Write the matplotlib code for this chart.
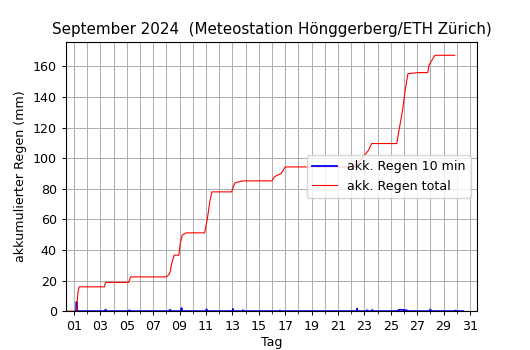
import numpy as np
import matplotlib
matplotlib.use('Agg')
from matplotlib import pyplot as plt
from matplotlib.ticker import FixedLocator, MultipleLocator, FuncFormatter

# day of month (fractional) and cumulative rain in mm
tag_total = [0.4, 1.2, 1.3, 1.4, 3.3, 3.4, 5.15, 5.3, 8.0, 8.2, 8.3, 8.4, 8.6, 8.95,
             9.05, 9.2, 9.5, 10.9, 11.1, 11.3, 11.45, 12.95, 13.1, 13.2, 13.8, 16.0,
             16.2, 16.7, 17.0, 22.3, 22.8, 23.3, 23.55, 25.45, 25.7, 25.9, 26.1, 26.3,
             27.1, 27.8, 27.9, 28.35, 29.85]
regen_total = [0, 0, 12, 15.9, 15.9, 18.8, 18.8, 22.4, 22.4, 24, 26, 31, 36.6, 36.6,
               44, 49.7, 51.2, 51.2, 60, 72, 78, 78, 82, 84, 85.2, 85.2,
               88, 90, 94.3, 94.3, 99.8, 105, 109.6, 109.6, 122, 132, 145, 155.3,
               156, 156, 161, 167.3, 167.3]

tag_10min = [1.15, 1.19, 1.2, 1.21, 1.25, 3.38, 3.4, 3.42, 5.18, 5.2, 5.22, 8.2, 8.25,
             8.3, 8.35, 8.5, 9.1, 9.15, 9.2, 9.5, 11.0, 11.05, 11.1, 13.03, 13.05, 13.07,
             13.78, 13.8, 13.82, 16.55, 16.6, 16.65, 22.43, 22.45, 22.47, 23.18, 23.2,
             23.22, 23.58, 23.6, 23.62, 25.5, 25.6, 25.8, 26.0, 26.2, 26.3, 27.98, 28.0,
             28.02, 29.88, 29.9, 29.92, 30.5]
regen_10min = [0, 0, 6.0, 0, 0, 0, 1.0, 0, 0, 0.6, 0, 0, 0.6, 0.9, 0, 0, 0, 2.0, 0, 0,
               0, 1.2, 0, 0, 1.5, 0, 0, 0.6, 0, 0, 0.4, 0, 0, 1.6, 0, 0, 0.6, 0,
               0, 0.8, 0, 0, 0.8, 0.9, 0.7, 0.5, 0, 0, 1.1, 0, 0, 0.4, 0, 0]

tag_labels = list(range(1, 32, 2))

plt.rcParams['font.size'] = 9.1

fig = plt.figure(figsize=(5.3, 3.5), dpi=100)
ax = fig.add_axes([0.1245, 0.111, 0.7755, 0.769])

ax.plot(tag_10min, regen_10min, color='blue', linewidth=1.3, label='akk. Regen 10 min')
ax.plot(tag_total, regen_total, color='red', linewidth=0.8, label='akk. Regen total')

ax.set_xlim(0.4, 31.53)
ax.set_ylim(0, 176)
ax.xaxis.set_major_locator(FixedLocator(tag_labels))
ax.xaxis.set_minor_locator(MultipleLocator(1))
ax.xaxis.set_major_formatter(FuncFormatter(lambda v, p: '%02d' % int(round(v))))
ax.yaxis.set_major_locator(MultipleLocator(20))
ax.tick_params(which='major', length=3.2, width=0.7)
ax.tick_params(which='minor', length=1.8, width=0.55)
ax.grid(True, which='both', color='#b0b0b0', linewidth=0.75)
ax.set_axisbelow(True)

ax.set_title('September 2024  (Meteostation Hönggerberg/ETH Zürich)', fontsize=10.9)
ax.set_xlabel('Tag', labelpad=1.5)
ax.set_ylabel('akkumulierter Regen (mm)')
ax.legend(loc='center right')

fig.savefig('out.png', dpi=100)
